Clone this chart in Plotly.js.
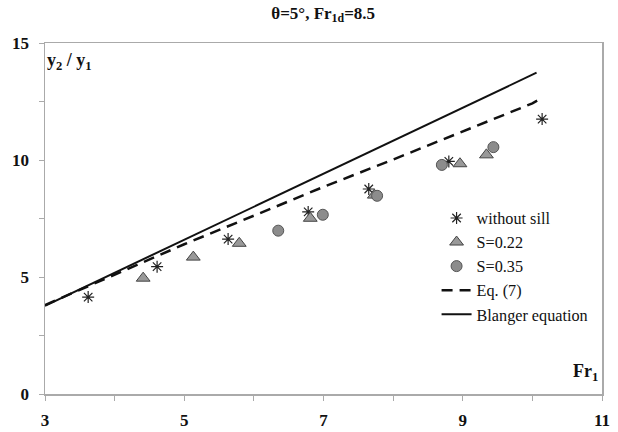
<!DOCTYPE html>
<html>
<head>
<meta charset="utf-8">
<script src="https://cdn.plot.ly/plotly-3.0.1.min.js"></script>
<style>html,body{margin:0;padding:0;background:#fff;}#chart{width:618px;height:432px;}</style>
</head>
<body>
<div id="chart"></div>
<script>
// without sill
const noSillFr = [3.62, 4.61, 5.63, 6.78, 7.65, 8.80, 10.14];
const noSillY  = [4.14, 5.44, 6.62, 7.78, 8.76, 9.94, 11.75];
// S = 0.22
const s22Fr = [4.41, 5.13, 5.79, 6.81, 7.73, 8.96, 9.34];
const s22Y  = [4.95, 5.85, 6.44, 7.51, 8.50, 9.84, 10.22];
// S = 0.35
const s35Fr = [6.35, 6.99, 7.77, 8.70, 9.44];
const s35Y  = [6.98, 7.66, 8.47, 9.79, 10.55];
// Eq. (7) (dashed)
const eq7Fr = [3, 4, 5, 6, 7, 8, 9, 10, 10.12];
const eq7Y  = [3.80, 5.10, 6.40, 7.62, 8.85, 10.02, 11.22, 12.42, 12.62];
// Blanger equation (solid)
const blFr = [3, 4, 5, 6, 7, 8, 9, 10, 10.06];
const blY  = [3.77, 5.18, 6.59, 8.00, 9.41, 10.82, 12.24, 13.65, 13.73];

const xTicks = [3, 5, 7, 9, 11];
const yTicks = [0, 5, 10, 15];

const serif = '"Liberation Serif", "Times New Roman", "DejaVu Serif", serif';

const traces = [
  {x: noSillFr, y: noSillY, mode: 'markers', name: 'without sill', type: 'scatter',
   marker: {symbol: 'asterisk-open', size: 10, color: '#222', line: {color: '#222', width: 1.2}}},
  {x: s22Fr, y: s22Y, mode: 'markers', name: 'S=0.22', type: 'scatter',
   marker: {symbol: 'triangle-up', size: 12, color: '#999', line: {color: '#444', width: 1}}},
  {x: s35Fr, y: s35Y, mode: 'markers', name: 'S=0.35', type: 'scatter',
   marker: {symbol: 'circle', size: 11, color: '#8c8c8c', line: {color: '#555', width: 1}}},
  {x: eq7Fr, y: eq7Y, mode: 'lines', name: 'Eq. (7)', type: 'scatter',
   line: {color: '#111', width: 2.5, dash: '11px,7px'}},
  {x: blFr, y: blY, mode: 'lines', name: 'Blanger equation', type: 'scatter',
   line: {color: '#111', width: 2}}
];

const layout = {
  width: 618, height: 432,
  margin: {l: 45, r: 16, t: 43, b: 38},
  paper_bgcolor: '#fff', plot_bgcolor: '#fff',
  font: {family: serif, color: '#111'},
  title: {text: '<b>θ=5°, Fr<sub>1d</sub>=8.5</b>', font: {family: serif, size: 17, color: '#111'},
          x: 0.523, xanchor: 'center', y: 0.97, yanchor: 'middle'},
  showlegend: true,
  legend: {x: 0.703, y: 0.55, xanchor: 'left', yanchor: 'top', bgcolor: 'rgba(255,255,255,0)',
           font: {family: serif, size: 16.2, color: '#111'}, tracegroupgap: 0, itemwidth: 30},
  xaxis: {range: [3, 11], tickvals: xTicks, ticktext: xTicks.map(String),
          showgrid: false, zeroline: false, showline: true, linecolor: '#aaa', linewidth: 1.5, mirror: true,
          ticks: 'outside', ticklen: 5, tickcolor: '#aaa', tickwidth: 1,
          minor: {tickvals: [4, 6, 8, 10], ticks: 'outside', ticklen: 5, tickcolor: '#aaa', showgrid: false},
          tickfont: {family: serif, size: 17, color: '#111', weight: 'bold'}, ticklabelstandoff: 5},
  yaxis: {range: [0, 15], tickvals: yTicks, ticktext: yTicks.map(String),
          showgrid: false, zeroline: false, showline: true, linecolor: '#aaa', linewidth: 1.5, mirror: true,
          ticks: 'outside', ticklen: 5, tickcolor: '#aaa', tickwidth: 1,
          minor: {tickvals: [2.5, 7.5, 12.5], ticks: 'outside', ticklen: 5, tickcolor: '#aaa', showgrid: false},
          tickfont: {family: serif, size: 17, color: '#111', weight: 'bold'}, ticklabelstandoff: 6},
  annotations: [
    {text: '<b>y<sub>2</sub> / y<sub>1</sub></b>', xref: 'paper', yref: 'paper', x: 0.0, y: 0.947,
     xanchor: 'left', yanchor: 'middle', showarrow: false, font: {family: serif, size: 18, color: '#111'}},
    {text: '<b>Fr<sub>1</sub></b>', xref: 'paper', yref: 'paper', x: 0.997, y: 0.06,
     xanchor: 'right', yanchor: 'middle', showarrow: false, font: {family: serif, size: 18, color: '#111'}}
  ]
};

Plotly.newPlot('chart', traces, layout, {displayModeBar: false, staticPlot: true});
</script>
</body>
</html>
